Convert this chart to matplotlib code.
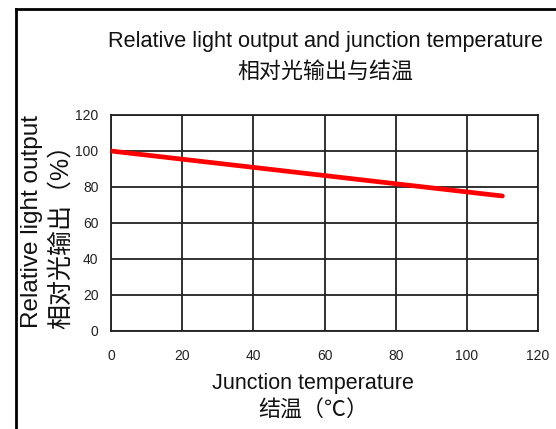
import matplotlib
matplotlib.use("Agg")
import matplotlib.pyplot as plt
from matplotlib.lines import Line2D

plt.rcParams['font.family'] = ['Liberation Sans', 'Noto Sans CJK SC', 'DejaVu Sans']

# data
temp = [0, 110]
output = [100, 75]
x_ticks = [0, 20, 40, 60, 80, 100, 120]
y_ticks = [0, 20, 40, 60, 80, 100, 120]

fig = plt.figure(figsize=(5.56, 4.29), dpi=100)
ax = fig.add_axes([111 / 556, 1 - 331 / 429, 427 / 556, 216 / 429])

ax.plot(temp, output, color='#ff0000', lw=3.4, solid_capstyle='round', zorder=3)

ax.set_xlim(0, 120)
ax.set_ylim(0, 120)
ax.set_xticks(x_ticks)
ax.set_yticks(y_ticks)
ax.grid(True, color='#222222', lw=1.3)
for s in ax.spines.values():
    s.set_color('#222222')
    s.set_linewidth(1.3)
ax.tick_params(length=0, labelsize=10, colors='#222222')
ax.tick_params(axis='x', pad=13)
ax.tick_params(axis='y', pad=9)

# outer frame (left and top only, as in the reference)
fig.add_artist(Line2D([16 / 556, 16 / 556], [0, 1 - 9 / 429], color='black', lw=2, transform=fig.transFigure))
fig.add_artist(Line2D([16 / 556, 1], [1 - 9 / 429, 1 - 9 / 429], color='black', lw=2, transform=fig.transFigure))

fig.text(326 / 556, 1 - 42 / 429, 'Relative light output and junction temperature',
         ha='center', va='center', fontsize=15.6, color='#111111')
fig.text(325 / 556, 1 - 72 / 429, '相对光输出与结温',
         ha='center', va='center', fontsize=15.8, color='#111111')

fig.text(32 / 556, 1 - 221 / 429, 'Relative light output',
         ha='center', va='center', rotation=90, fontsize=17.5, color='#111111')
fig.text(61 / 556, 1 - 230 / 429, '相对光输出（%）',
         ha='center', va='center', rotation=90, fontsize=18, color='#111111')

fig.text(313 / 556, 1 - 383 / 429, 'Junction temperature',
         ha='center', va='center', fontsize=15.5, color='#111111')
fig.text(313 / 556, 1 - 411 / 429, '结温（℃）',
         ha='center', va='center', fontsize=15.8, color='#111111')

fig.savefig('out.png', dpi=100)
